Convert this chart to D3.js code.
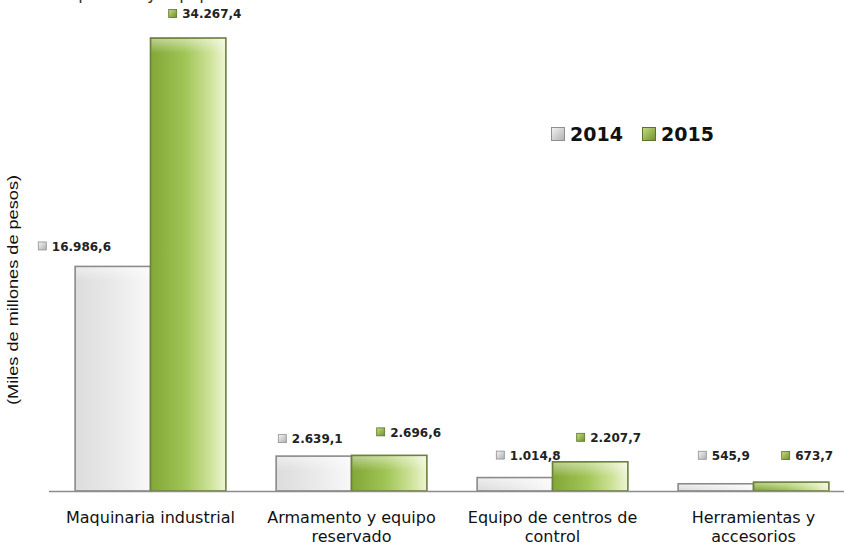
<!DOCTYPE html>
<html><head><meta charset="utf-8">
<script src="https://cdn.jsdelivr.net/npm/d3@7"></script>
<style>body{margin:0;background:#fff}svg{display:block}</style>
</head><body>
<svg id="c" width="844" height="546"></svg>
<script>
const categories = [["Maquinaria industrial"], ["Armamento y equipo", "reservado"], ["Equipo de centros de", "control"], ["Herramientas y", "accesorios"]];
const years = ["2014", "2015"];
const values2014 = [16986.6, 2639.1, 1014.8, 545.9];
const values2015 = [34267.4, 2696.6, 2207.7, 673.7];
const yLabel = "(Miles de millones de pesos)";
const titleText = "Maquinaria y equipo";
// label nudges (dx from bar centre to label left, dy from bar top to label centre)
const labelNudge2014 = [[-75, -20], [-36, -17], [-19, -22], [-18, -28]];
const labelNudge2015 = [[-20, -24], [-13, -23], [-14, -24], [-10, -26]];

const svg = d3.select("#c");
const defs = svg.append("defs");
function grad(id, stops, x2 = "100%", y2 = "0%") {
  const g = defs.append("linearGradient").attr("id", id).attr("x1", "0%").attr("y1", "0%").attr("x2", x2).attr("y2", y2);
  stops.forEach(s => g.append("stop").attr("offset", s[0]).attr("stop-color", s[1]));
}
grad("g2014", [["0%", "#dcdcdc"], ["50%", "#e9e9e9"], ["100%", "#f8f8f8"]]);
grad("g2015", [["0%", "#83a736"], ["45%", "#a0c455"], ["80%", "#cfe39a"], ["100%", "#eef5d6"]]);
grad("i2014", [["0%", "#f4f4f4"], ["100%", "#b0b0b0"]], "100%", "100%");
grad("i2015", [["0%", "#c6dd84"], ["100%", "#6f8f2c"]], "100%", "100%");
grad("hl", [["0%", "rgba(255,255,255,0.45)"], ["100%", "rgba(255,255,255,0)"]], "0%", "100%");

const x = d3.scaleBand().domain(d3.range(categories.length)).range([50, 854]).paddingInner(0.25).paddingOuter(0.125);
const xs = d3.scaleBand().domain(years).range([0, x.bandwidth()]);
const y = d3.scaleLinear().domain([0, 34267.4]).range([491, 38]);

// cut-off title
svg.append("text").attr("x", 47).attr("y", -1).attr("font-family", "DejaVu Sans").attr("font-size", 17).attr("fill", "#333").text(titleText);

// y label
svg.append("text").attr("transform", "translate(18,290) rotate(-90)").attr("text-anchor", "middle")
  .attr("font-family", "Liberation Sans Narrow, Liberation Sans").attr("font-size", 15).attr("fill", "#111")
  .attr("textLength", 230).attr("lengthAdjust", "spacingAndGlyphs").text(yLabel);

const series = [{year: "2014", vals: values2014, fill: "url(#g2014)", stroke: "#8a8a8a", icon: "url(#i2014)", iconStroke: "#909090", nudge: labelNudge2014},
                {year: "2015", vals: values2015, fill: "url(#g2015)", stroke: "#6d7f3c", icon: "url(#i2015)", iconStroke: "#5d7228", nudge: labelNudge2015}];

series.forEach(s => {
  const g = svg.append("g");
  s.vals.forEach((v, i) => {
    const bx = x(i) + xs(s.year), bw = xs.bandwidth(), by = y(v), bh = y(0) - y(v);
    g.append("rect").attr("x", bx).attr("y", by).attr("width", bw).attr("height", bh)
      .attr("fill", s.fill).attr("stroke", s.stroke).attr("stroke-width", 1.6);
    g.append("rect").attr("x", bx + 1).attr("y", by + 1).attr("width", bw - 2).attr("height", Math.min(14, bh - 2))
      .attr("fill", "url(#hl)");
  });
});

// axis line
svg.append("line").attr("x1", 49).attr("x2", 844).attr("y1", y(0) + 0.5).attr("y2", y(0) + 0.5).attr("stroke", "#8c8c8c").attr("stroke-width", 1.3);

// value labels
const fmt = v => d3.format(",.1f")(v).replace(/,/g, "#").replace(".", ",").replace(/#/g, ".");
series.forEach(s => {
  s.vals.forEach((v, i) => {
    const cx = x(i) + xs(s.year) + xs.bandwidth() / 2;
    const lx = cx + s.nudge[i][0], ly = y(v) + s.nudge[i][1];
    svg.append("rect").attr("x", lx + 0.5).attr("y", ly - 4.5).attr("width", 8).attr("height", 8)
      .attr("fill", s.icon).attr("stroke", s.iconStroke).attr("stroke-width", 0.8);
    svg.append("text").attr("x", lx + 14).attr("y", ly).attr("dy", "0.36em")
      .attr("font-family", "DejaVu Sans").attr("font-weight", "bold").attr("font-size", 12).attr("fill", "#222").text(fmt(v));
  });
});

// category labels
categories.forEach((lines, i) => {
  const t = svg.append("text").attr("text-anchor", "middle").attr("font-family", "DejaVu Sans").attr("font-size", 16).attr("fill", "#111");
  lines.forEach((ln, j) => t.append("tspan").attr("x", x(i) + x.bandwidth() / 2).attr("y", 523 + j * 18.5).text(ln));
});

// legend
const leg = [{t: "2014", x: 551, icon: "url(#i2014)", st: "#909090"}, {t: "2015", x: 642, icon: "url(#i2015)", st: "#5d7228"}];
leg.forEach(l => {
  svg.append("rect").attr("x", l.x + 0.5).attr("y", 127.5).attr("width", 13).attr("height", 13).attr("fill", l.icon).attr("stroke", l.st).attr("stroke-width", 1);
  svg.append("text").attr("x", l.x + 19).attr("y", 134).attr("dy", "0.36em").attr("font-family", "DejaVu Sans").attr("font-weight", "bold")
    .attr("font-size", 19).attr("fill", "#111").text(l.t);
});
</script>
</body></html>
